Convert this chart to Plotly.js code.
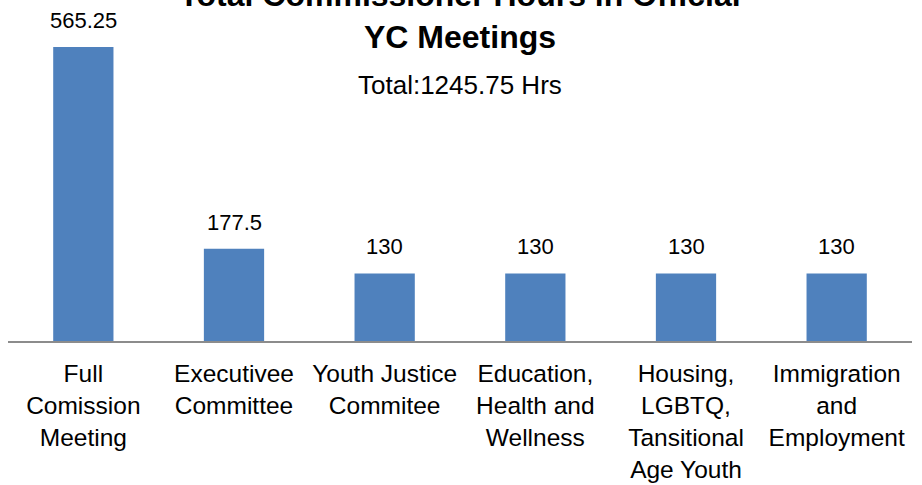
<!DOCTYPE html>
<html>
<head>
<meta charset="utf-8">
<script src="https://cdn.plot.ly/plotly-3.0.1.min.js"></script>
<style>html,body{margin:0;padding:0;background:#fff;}#chart{width:922px;height:485px;}</style>
</head>
<body>
<div id="chart"></div>
<script>
const categories = [
  "Full<br>Comission<br>Meeting",
  "Executivee<br>Committee",
  "Youth Justice<br>Commitee",
  "Education,<br>Health and<br>Wellness",
  "Housing,<br>LGBTQ,<br>Tansitional<br>Age Youth",
  "Immigration<br>and<br>Employment"
];
const hours = [565.25, 177.5, 130, 130, 130, 130];
const valueLabels = ["565.25", "177.5", "130", "130", "130", "130"];
const titleText = "Total Commissioner Hours in Official<br>YC Meetings";
const subtitleText = "Total:1245.75 Hrs";

const FONT = "Liberation Sans, Arial, sans-serif";

const labelAnnotations = categories.map((c, i) => ({
  x: c, y: hours[i], xref: "x", yref: "y",
  text: valueLabels[i], showarrow: false,
  yanchor: "bottom", yshift: 12,
  font: {family: FONT, size: 22, color: "#000"}
}));

const data = [{
  type: "bar",
  x: categories,
  y: hours,
  marker: {color: "#4F81BD"},
  hoverinfo: "x+y"
}];

const layout = {
  width: 922, height: 485,
  margin: {l: 8, r: 10, t: 0, b: 144},
  paper_bgcolor: "#fff", plot_bgcolor: "#fff",
  bargap: 0.6,
  showlegend: false,
  font: {family: FONT, size: 24, color: "#000"},
  title: {
    text: titleText,
    font: {family: FONT, size: 32, color: "#000", weight: "bold"},
    xref: "paper", x: 0.5, xanchor: "center",
    yref: "paper", y: 0.982, yanchor: "middle"
  },
  xaxis: {
    type: "category",
    showline: true, linecolor: "#8c8c8c", linewidth: 2,
    ticks: "", showgrid: false,
    tickfont: {family: FONT, size: 24.5, color: "#000"},
    ticklabelstandoff: 10
  },
  yaxis: {
    range: [0, 655.6],
    visible: false, showgrid: false, zeroline: false
  },
  annotations: labelAnnotations.concat([{
    xref: "paper", yref: "paper", x: 0.5, y: 0.7507,
    xanchor: "center", yanchor: "middle", showarrow: false,
    text: subtitleText,
    font: {family: FONT, size: 26, color: "#000"}
  }])
};

Plotly.newPlot("chart", data, layout, {displayModeBar: false, staticPlot: true});
</script>
</body>
</html>
